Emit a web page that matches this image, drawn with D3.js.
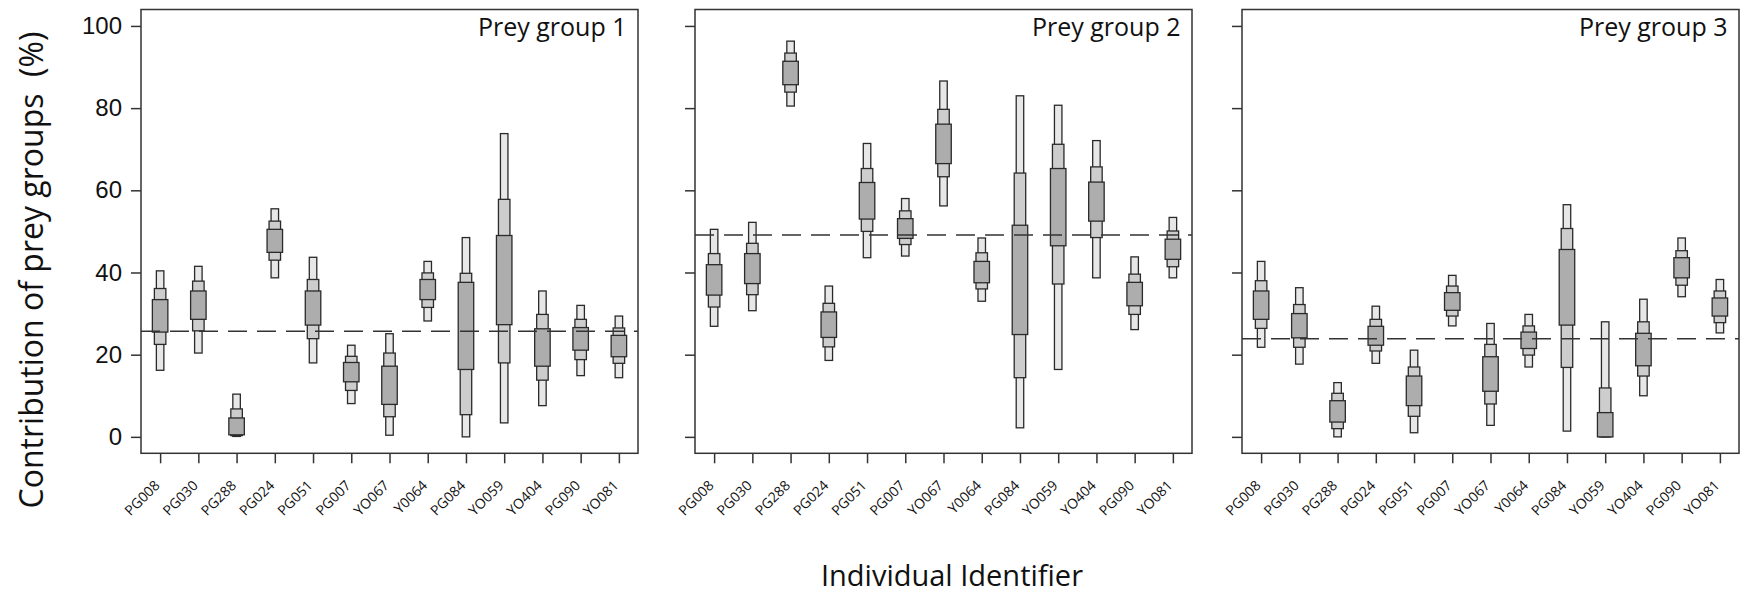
<!DOCTYPE html>
<html>
<head>
<meta charset="utf-8">
<script src="https://cdn.jsdelivr.net/npm/d3@7"></script>
<style>
  body { margin: 0; background: #fff; }
  svg text { fill: #111; }
</style>
</head>
<body>
<svg id="chart" width="1749" height="593"></svg>
<script>
// individuals, in plotting order
var ids = ["PG008", "PG030", "PG288", "PG024", "PG051", "PG007", "YO067",
           "Y0064", "PG084", "YO059", "YO404", "PG090", "YO081"];

// credible intervals per individual: [lo95, lo75, lo50, hi50, hi75, hi95] (%)
var group1 = [
  [16.2, 22.5, 25.5, 33.4, 36.1, 40.4],
  [20.4, 25.8, 28.6, 35.5, 37.9, 41.5],
  [0.1, 0.3, 0.5, 4.6, 6.8, 10.4],
  [38.7, 43.0, 44.9, 50.5, 52.5, 55.5],
  [18.0, 23.9, 27.2, 35.5, 38.3, 43.7],
  [8.1, 11.3, 13.4, 18.1, 19.6, 22.3],
  [0.4, 4.9, 7.9, 17.2, 20.4, 25.1],
  [28.2, 31.5, 33.4, 38.3, 39.9, 42.7],
  [0.0, 5.4, 16.4, 37.6, 39.8, 48.5],
  [3.4, 18.0, 27.3, 49.0, 57.8, 73.8],
  [7.6, 13.8, 17.2, 26.3, 29.8, 35.5],
  [14.9, 18.8, 21.1, 26.6, 28.6, 32.0],
  [14.4, 17.9, 19.5, 24.7, 26.5, 29.4]
];
var group2 = [
  [26.9, 31.6, 34.5, 41.9, 44.6, 50.5],
  [30.7, 34.6, 37.3, 44.6, 47.1, 52.2],
  [80.5, 83.9, 85.7, 91.4, 93.4, 96.3],
  [18.6, 21.9, 24.2, 30.4, 32.5, 36.7],
  [43.6, 50.0, 53.0, 61.9, 65.3, 71.4],
  [44.0, 46.8, 48.3, 53.1, 55.0, 58.0],
  [56.2, 63.3, 66.5, 76.1, 79.7, 86.6],
  [33.0, 36.0, 37.5, 42.7, 44.8, 48.4],
  [2.2, 14.4, 24.9, 51.5, 64.2, 83.0],
  [16.4, 37.2, 46.5, 65.3, 71.2, 80.7],
  [38.7, 48.5, 52.5, 62.0, 65.7, 72.1],
  [26.1, 29.8, 31.9, 37.6, 39.6, 43.8],
  [38.7, 41.4, 43.2, 48.1, 50.1, 53.4]
];
var group3 = [
  [21.8, 26.4, 28.6, 35.5, 38.0, 42.7],
  [17.7, 21.8, 24.1, 30.0, 32.2, 36.3],
  [0.0, 2.0, 3.6, 8.8, 10.6, 13.2],
  [17.9, 20.9, 22.3, 26.9, 28.6, 31.8],
  [1.0, 5.0, 7.6, 14.8, 17.0, 21.1],
  [27.0, 29.4, 30.8, 35.1, 36.7, 39.3],
  [2.8, 8.0, 11.1, 19.5, 22.5, 27.6],
  [17.0, 19.9, 21.5, 25.5, 27.0, 29.8],
  [1.4, 16.9, 27.2, 45.6, 50.7, 56.5],
  [0.0, 0.0, 0.0, 5.9, 11.9, 28.0],
  [10.0, 14.8, 17.3, 25.2, 28.0, 33.5],
  [34.1, 36.9, 38.7, 43.6, 45.3, 48.4],
  [25.3, 27.8, 29.4, 33.8, 35.5, 38.3]
];
var groupMeans = [25.7, 49.1, 23.9];
var groupTitles = ["Prey group 1", "Prey group 2", "Prey group 3"];
var yTicks = [0, 20, 40, 60, 80, 100];

var groups = [group1, group2, group3];

// layout
var panelX = [[141, 638], [695, 1192], [1242, 1739]];
var plotTop = 9.5, plotBottom = 453.3;
var sansFont = "'Open Sans', Lato, sans-serif";

var svg = d3.select("#chart");

var y = d3.scaleLinear().domain([-4, 104]).range([plotBottom, plotTop]);

// widths of the 95 / 75 / 50 % boxes
var boxW = [7.5, 11.5, 15.5];
var boxFill = ["#e7e7e7", "#cdcdcd", "#adadad"];

groups.forEach(function(data, gi) {
    var x = d3.scalePoint().domain(ids).range(panelX[gi]).padding(0.5);
    var g = svg.append("g");

    // y axis ticks (labels only on the first panel)
    var yAx = d3.axisLeft(y).tickValues(yTicks).tickSize(10).tickPadding(9)
        .tickFormat(gi == 0 ? d3.format("d") : "");
    var ya = g.append("g")
        .attr("transform", "translate(" + panelX[gi][0] + ",0)")
        .call(yAx);
    ya.select(".domain").remove();
    ya.selectAll("line").attr("stroke", "#333").attr("stroke-width", 1.5);
    ya.selectAll("text")
        .style("font-family", "'Liberation Sans', Arial, sans-serif")
        .style("font-size", "24px")
        .attr("fill", "#111");

    // x axis
    var xAx = d3.axisBottom(x).tickSize(10).tickPadding(4);
    var xa = g.append("g")
        .attr("transform", "translate(0," + plotBottom + ")")
        .call(xAx);
    xa.select(".domain").remove();
    xa.selectAll("line").attr("stroke", "#333").attr("stroke-width", 1.5);
    xa.selectAll("text")
        .style("font-family", sansFont)
        .style("font-size", "14px")
        .attr("fill", "#111")
        .attr("text-anchor", "end")
        .attr("dy", null)
        .attr("y", 0)
        .attr("transform", "translate(0,33) rotate(-45)");

    // nested credible-interval boxes, widest (50%) drawn last
    [0, 1, 2].forEach(function(level) {
        g.append("g").selectAll("rect")
            .data(data)
            .join("rect")
            .attr("x", (d, i) => x(ids[i]) - boxW[level] / 2)
            .attr("width", boxW[level])
            .attr("y", d => y(d[5 - level]))
            .attr("height", d => Math.max(0, y(d[level]) - y(d[5 - level])))
            .attr("fill", boxFill[level])
            .attr("stroke", "#2a2a2a")
            .attr("stroke-width", 1.3);
    });

    // mean line
    g.append("line")
        .attr("x1", panelX[gi][0]).attr("x2", panelX[gi][1])
        .attr("y1", y(groupMeans[gi])).attr("y2", y(groupMeans[gi]))
        .attr("stroke", "#333")
        .attr("stroke-width", 1.5)
        .attr("stroke-dasharray", "19,10");

    // frame
    g.append("rect")
        .attr("x", panelX[gi][0]).attr("y", plotTop)
        .attr("width", panelX[gi][1] - panelX[gi][0])
        .attr("height", plotBottom - plotTop)
        .attr("fill", "none")
        .attr("stroke", "#333")
        .attr("stroke-width", 1.5);

    g.append("text")
        .attr("x", panelX[gi][1] - 11.5)
        .attr("y", 36)
        .attr("text-anchor", "end")
        .style("font-family", sansFont)
        .style("font-size", "25px")
        .text(groupTitles[gi]);
});

// axis titles
svg.append("text")
    .attr("transform", "translate(43,270) rotate(-90)")
    .attr("text-anchor", "middle")
    .style("font-family", sansFont)
    .style("font-size", "32px")
    .style("white-space", "pre")
    .text("Contribution of prey groups  (%)");

svg.append("text")
    .attr("x", 952)
    .attr("y", 586)
    .attr("text-anchor", "middle")
    .style("font-family", sansFont)
    .style("font-size", "29px")
    .text("Individual Identifier");
</script>
</body>
</html>
